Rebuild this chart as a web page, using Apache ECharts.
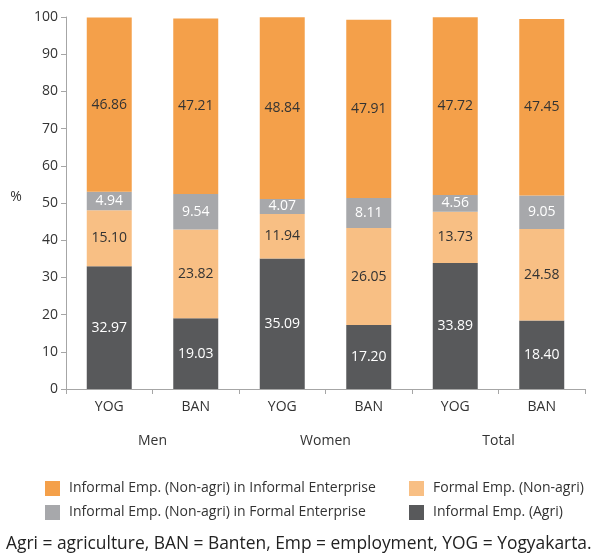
<!DOCTYPE html>
<html><head><meta charset="utf-8">
<script src="https://cdn.jsdelivr.net/npm/echarts@6/dist/echarts.min.js"></script>
<style>html,body{margin:0;padding:0;background:#fff}#c{width:600px;height:554px}</style>
</head><body><div id="c"></div>
<script>
const categories = ['YOG','BAN','YOG','BAN','YOG','BAN'];
const groups = ['Men','Women','Total'];
const seriesNames = [
  'Informal Emp. (Agri)',
  'Formal Emp. (Non-agri)',
  'Informal Emp. (Non-agri) in Formal Enterprise',
  'Informal Emp. (Non-agri) in Informal Enterprise'
];
const agri = [32.97, 19.03, 35.09, 17.20, 33.89, 18.40];
const formal = [15.10, 23.82, 11.94, 26.05, 13.73, 24.58];
const infFormalEnt = [4.94, 9.54, 4.07, 8.11, 4.56, 9.05];
const infInformalEnt = [46.86, 47.21, 48.84, 47.91, 47.72, 47.45];
const yTicks = [0,10,20,30,40,50,60,70,80,90,100];

const font = '"Open Sans", "Noto Sans", sans-serif';
const colors = ['#58595B','#F8BF84','#A7A8AB','#F4A04A'];
const labelColors = ['#ffffff','#333333','#ffffff','#333333'];
const values = [agri, formal, infFormalEnt, infInformalEnt];

const legendCommon = {
  orient: 'vertical', top: 481, itemWidth: 15, itemHeight: 15, itemGap: 9, padding: 0,
  icon: 'rect',
  textStyle: {color: '#333', fontSize: 14, fontFamily: font, padding: [0,0,0,4]}
};

const chart = echarts.init(document.getElementById('c'));
chart.setOption({
  animation: false,
  textStyle: {fontFamily: font},
  grid: {left: 66, right: 15, top: 17, bottom: 165, containLabel: false},
  xAxis: [{
    type: 'category', data: categories,
    axisLine: {lineStyle: {color: '#A6A6A6', width: 1}},
    axisTick: {show: true, alignWithLabel: false, length: 5, lineStyle: {color: '#A6A6A6'}},
    axisLabel: {color: '#333', fontSize: 14, fontFamily: font, margin: 11}
  }, {
    type: 'category', data: groups, position: 'bottom', offset: 34,
    axisLine: {show: false}, axisTick: {show: false},
    axisLabel: {color: '#333', fontSize: 14, fontFamily: font, margin: 11}
  }],
  yAxis: {
    type: 'value', min: yTicks[0], max: yTicks[yTicks.length-1], interval: 10,
    splitLine: {show: false},
    axisLine: {show: true, lineStyle: {color: '#A6A6A6'}},
    axisTick: {show: true, length: 5, lineStyle: {color: '#A6A6A6'}},
    axisLabel: {color: '#333', fontSize: 14, fontFamily: font, margin: 8}
  },
  legend: [
    Object.assign({left: 45, data: [seriesNames[3], seriesNames[2]]}, legendCommon),
    Object.assign({left: 409, data: [seriesNames[1], seriesNames[0]]}, legendCommon)
  ],
  graphic: [{
    type: 'text', x: 16, y: 197,
    style: {text: '%', fill: '#333', font: '14px ' + font, textAlign: 'center', textVerticalAlign: 'middle'}
  }, {
    type: 'text', x: 6, y: 544,
    style: {text: 'Agri = agriculture, BAN = Banten, Emp = employment, YOG = Yogyakarta.', fill: '#222', font: '17.4px ' + font, textVerticalAlign: 'middle'}
  }],
  series: values.map((v, i) => ({
    name: seriesNames[i], type: 'bar', stack: 'all', xAxisIndex: 0,
    barWidth: '52%', data: v,
    itemStyle: {color: colors[i]},
    label: {show: true, position: 'inside', color: labelColors[i], fontSize: 14, fontFamily: font,
      formatter: p => p.value.toFixed(2)}
  }))
});
</script></body></html>
